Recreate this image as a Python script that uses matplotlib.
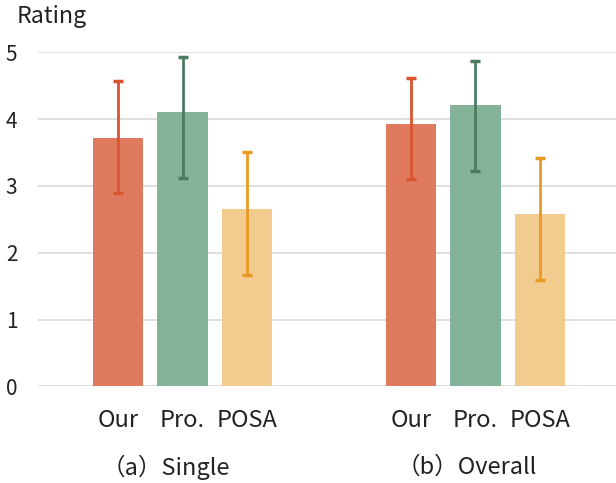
import matplotlib.pyplot as plt
import numpy as np

plt.rcParams['font.family'] = ['Noto Sans CJK SC', 'DejaVu Sans']

# data (bar value, lower and upper end of error bar)
methods = ["Our", "Pro.", "POSA"]
groups = ["（a）Single", "（b）Overall"]
single_mean = [3.72, 4.11, 2.65]
single_low = [2.90, 3.12, 1.66]
single_high = [4.57, 4.93, 3.50]
overall_mean = [3.92, 4.21, 2.58]
overall_low = [3.10, 3.22, 1.59]
overall_high = [4.62, 4.87, 3.41]

bar_colors = ["#E07A5F", "#84B39A", "#F2CC8F"]
err_colors = ["#D9552F", "#4C7A60", "#E99A22"]

fig = plt.figure(figsize=(6.16, 4.83), dpi=100)
ax = fig.add_axes([0.062, 0.2, 0.938, 0.692])

x1 = np.arange(3)
x2 = x1 + 4.54
for xs, means, lo, hi in [(x1, single_mean, single_low, single_high),
                          (x2, overall_mean, overall_low, overall_high)]:
    for i in range(3):
        ax.bar(xs[i], means[i], width=0.78, color=bar_colors[i], zorder=2)
        yerr = [[means[i] - lo[i]], [hi[i] - means[i]]]
        ax.errorbar(xs[i], means[i], yerr=yerr, color=err_colors[i],
                    elinewidth=2, capsize=3.5, capthick=2.5, zorder=3)

ax.set_xlim(-1.24, 7.72)
ax.set_ylim(0, 5)
ax.set_yticks(range(6))
ax.yaxis.grid(True, color="#D9D9D9", linewidth=1.2, zorder=0)
for s in ax.spines.values():
    s.set_visible(False)
ax.tick_params(axis="y", length=0, pad=15, labelsize=15, labelcolor="#222222")
ax.tick_params(axis="x", length=0, pad=16, labelsize=17, labelcolor="#222222")
ax.set_xticks(list(x1) + list(x2))
ax.set_xticklabels(methods + methods)

fig.text(0.027, 0.965, "Rating", fontsize=16.7, color="#222222", va="center",
         ha="left")
for fx, g in zip([0.2695, 0.757], groups):
    fig.text(fx, 0.033, g, fontsize=17, color="#222222", ha="center",
             va="center")

fig.savefig("out.png", dpi=100)
